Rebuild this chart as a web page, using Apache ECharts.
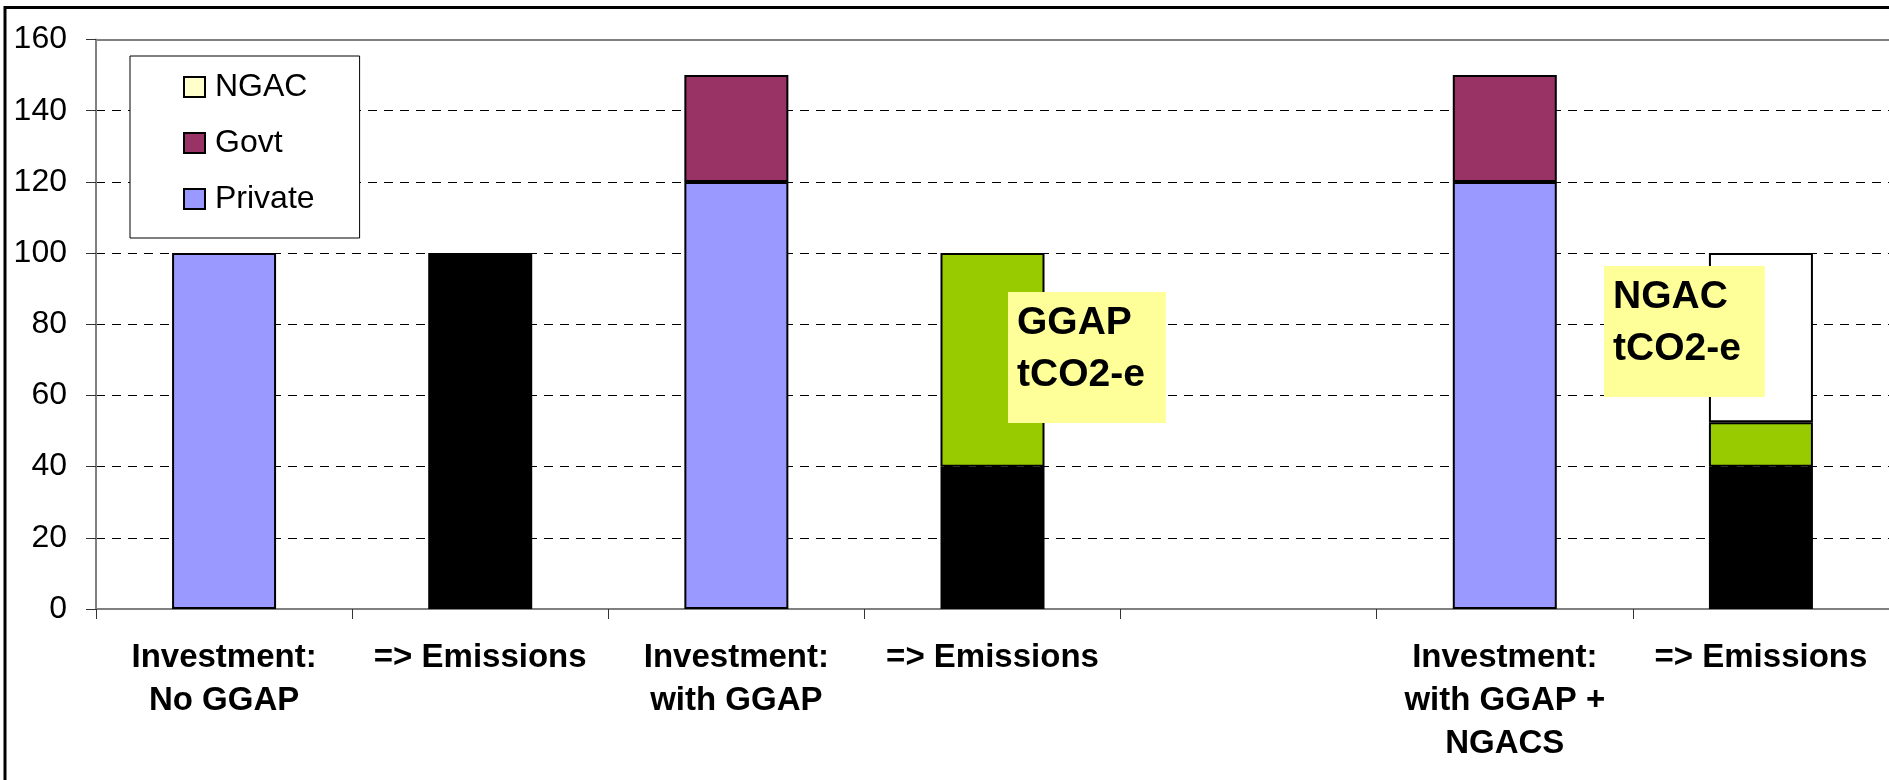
<!DOCTYPE html>
<html>
<head>
<meta charset="utf-8">
<script src="https://cdn.jsdelivr.net/npm/echarts@6/dist/echarts.min.js"></script>
<style>
  html, body { margin: 0; padding: 0; background: #fff; }
  #main { width: 1889px; height: 780px; }
</style>
</head>
<body>
<div id="main"></div>
<script>
// categories along the x axis (one empty slot between the two scenarios)
var categories = [
  'Investment:\nNo GGAP',
  '=> Emissions',
  'Investment:\nwith GGAP',
  '=> Emissions',
  '',
  'Investment:\nwith GGAP +\nNGACS',
  '=> Emissions'
];
var yTicks = [0, 20, 40, 60, 80, 100, 120, 140, 160];

// stacked values, '-' = no bar in that slot
var privateVals   = [100, '-', 120, '-', '-', 120, '-'];
var govtVals      = ['-', '-', 30, '-', '-', 30, '-'];
var emissionVals  = ['-', 100, '-', 40, '-', '-', 40];
var ggapVals      = ['-', '-', '-', 60, '-', '-', 12.5];
var ngacVals      = ['-', '-', '-', '-', '-', '-', 47.5];

var FONT = "'Liberation Sans', Arial, sans-serif";

var chart = echarts.init(document.getElementById('main'));

function barSeries(name, data, color) {
  return {
    name: name,
    type: 'bar',
    stack: 'total',
    barWidth: 104,
    data: data,
    itemStyle: { color: color, borderColor: '#000', borderWidth: 2 },
    emphasis: { disabled: true }
  };
}

// dashed split lines, but not on the 160 line (plot border sits there)
var splitColors = yTicks.map(function (v) {
  return v === 160 ? 'rgba(0,0,0,0)' : '#000';
});

var option = {
  animation: false,
  backgroundColor: '#fff',
  textStyle: { fontFamily: FONT },
  grid: { left: 96, right: -11, top: 39.5, bottom: 171, containLabel: false },
  legend: {
    data: [
      { name: 'NGAC', itemStyle: { color: '#FFFFCC' } },
      { name: 'Govt' },
      { name: 'Private' }
    ],
    icon: 'rect',
    orient: 'vertical',
    left: 130,
    top: 56,
    padding: [15, 45, 23, 53],
    itemGap: 24,
    itemWidth: 21,
    itemHeight: 20,
    backgroundColor: '#fff',
    borderColor: '#000',
    borderWidth: 1,
    borderRadius: 0,
    selectedMode: false,
    textStyle: { fontSize: 32, color: '#000', fontFamily: FONT, padding: [0, 0, 0, 5] }
  },
  xAxis: [
    {
      type: 'category',
      data: categories,
      axisLine: { lineStyle: { color: '#808080', width: 2 } },
      axisTick: { show: true, length: 10, lineStyle: { color: '#333', width: 1 } },
      axisLabel: {
        interval: 0,
        margin: 27,
        fontSize: 33,
        fontWeight: 'bold',
        lineHeight: 43,
        color: '#000',
        fontFamily: FONT
      },
      splitLine: { show: false }
    },
    {
      type: 'category',
      position: 'top',
      data: categories,
      axisLine: { show: true, lineStyle: { color: '#808080', width: 2 } },
      axisTick: { show: false },
      axisLabel: { show: false },
      splitLine: { show: false }
    }
  ],
  yAxis: {
    type: 'value',
    min: 0,
    max: 160,
    interval: 20,
    axisLine: { show: true, lineStyle: { color: '#808080', width: 2 } },
    axisTick: { show: true, length: 10, lineStyle: { color: '#333', width: 1 } },
    axisLabel: { fontSize: 32, color: '#000', margin: 29, fontFamily: FONT },
    splitLine: {
      show: true,
      lineStyle: { color: splitColors, type: [9, 7], width: 1 }
    }
  },
  series: [
    barSeries('Private', privateVals, '#9999FF'),
    barSeries('Govt', govtVals, '#993366'),
    barSeries('Emissions', emissionVals, '#000000'),
    barSeries('GGAP', ggapVals, '#99CC00'),
    barSeries('NGAC', ngacVals, '#FFFFFF')
  ],
  graphic: [
    // outer chart frame (runs off the right and bottom edges like the original)
    {
      type: 'rect',
      shape: { x: 5, y: 7.5, width: 1920, height: 820 },
      style: { fill: 'none', stroke: '#000', lineWidth: 3 },
      silent: true,
      z: 100
    },
    // yellow callouts
    {
      type: 'text',
      left: 1008,
      top: 292,
      silent: true,
      z: 100,
      style: {
        text: 'GGAP\ntCO2-e',
        font: 'bold 39px ' + FONT,
        fill: '#000',
        lineHeight: 52,
        backgroundColor: '#FFFF99',
        padding: [5, 21, 22, 9]
      }
    },
    {
      type: 'text',
      left: 1604,
      top: 266,
      silent: true,
      z: 100,
      style: {
        text: 'NGAC\ntCO2-e',
        font: 'bold 39px ' + FONT,
        fill: '#000',
        lineHeight: 52,
        backgroundColor: '#FFFF99',
        padding: [5, 24, 22, 9]
      }
    }
  ]
};

chart.setOption(option);
</script>
</body>
</html>
